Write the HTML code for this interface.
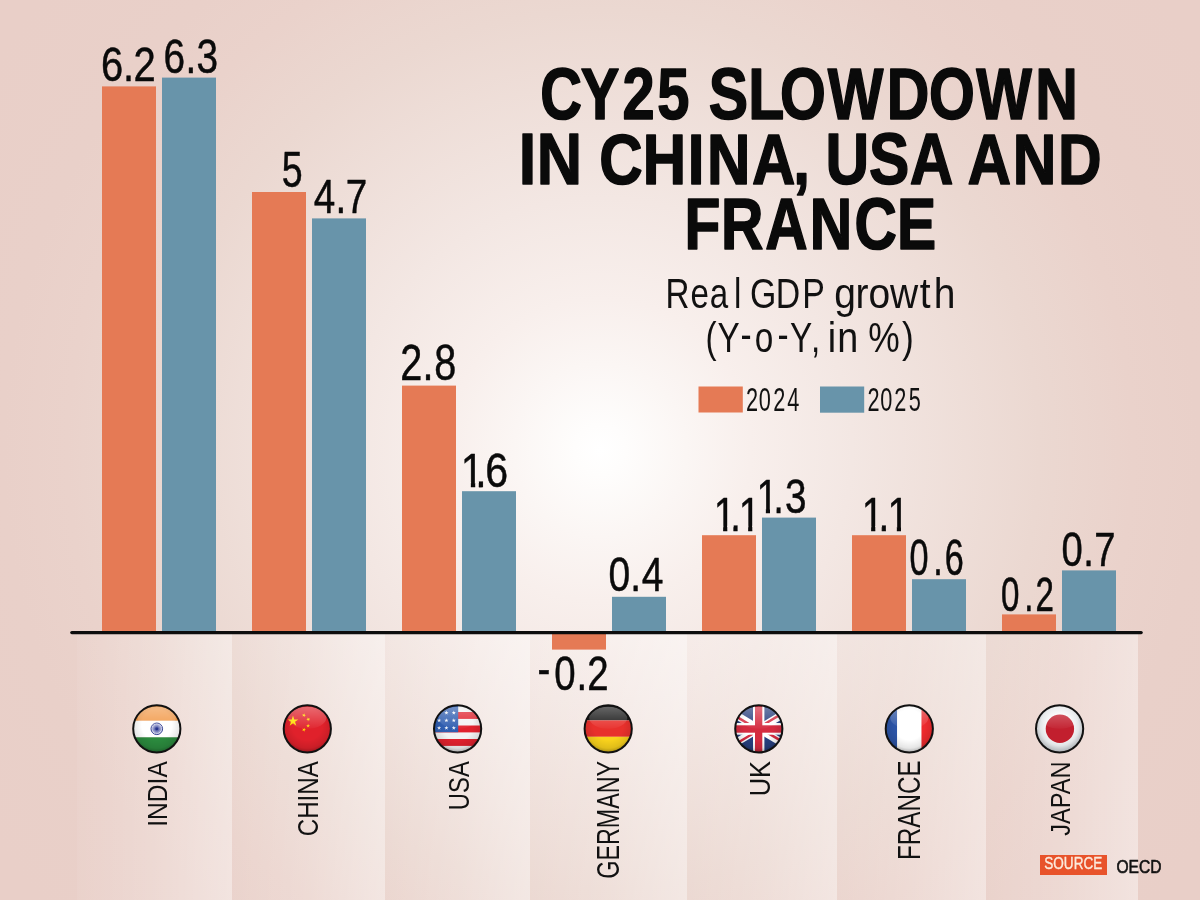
<!DOCTYPE html>
<html><head><meta charset="utf-8"><title>CY25 Slowdown in China, USA and France</title>
<style>
html,body{margin:0;padding:0;width:1200px;height:900px;overflow:hidden;background:#EAD2CB;}
svg{display:block;will-change:transform;}
text{font-family:"Liberation Sans", Arial, sans-serif;}
</style></head>
<body>
<svg width="1200" height="900" viewBox="0 0 1200 900" font-family="'Liberation Sans', Arial, sans-serif" font-size="100">
<defs>
<radialGradient id="bg" gradientUnits="userSpaceOnUse" cx="600" cy="450" r="720">
<stop offset="0" stop-color="#FFFFFF"/>
<stop offset="0.035" stop-color="#FEFDFC"/>
<stop offset="0.12" stop-color="#FBF6F4"/>
<stop offset="0.21" stop-color="#F8EFEC"/>
<stop offset="0.35" stop-color="#F3E7E3"/>
<stop offset="0.61" stop-color="#EBD8D1"/>
<stop offset="0.74" stop-color="#EAD2CB"/>
<stop offset="0.83" stop-color="#E9D0C9"/>
<stop offset="1" stop-color="#E9CFC8"/>
</radialGradient>
<linearGradient id="band" x1="0" y1="0" x2="1" y2="0">
<stop offset="0" stop-color="#FFFFFF" stop-opacity="0.05"/>
<stop offset="0.5" stop-color="#FFFFFF" stop-opacity="0.2"/>
<stop offset="1" stop-color="#FFFFFF" stop-opacity="0.42"/>
</linearGradient>
<clipPath id="vc5"><rect x="448.6" y="442.2" width="69.9" height="39.7"/><rect x="470.86" y="481.4" width="4.33" height="8"/><rect x="478.82" y="481.4" width="4.56" height="8"/><rect x="487.00" y="481.4" width="19.60" height="8"/></clipPath>
<clipPath id="vc8"><rect x="705.1" y="486.2" width="59.4" height="39.6"/><rect x="723.15" y="525.4" width="4.13" height="8"/><rect x="733.43" y="525.4" width="4.34" height="8"/><rect x="748.15" y="525.4" width="4.13" height="8"/></clipPath>
<clipPath id="vc9"><rect x="747.8" y="468.3" width="69.2" height="39.7"/><rect x="765.87" y="507.5" width="4.11" height="8"/><rect x="776.47" y="507.5" width="4.32" height="8"/><rect x="786.15" y="507.5" width="18.95" height="8"/></clipPath>
<clipPath id="vc10"><rect x="852.5" y="486.5" width="60.7" height="39.6"/><rect x="871.15" y="525.6" width="4.13" height="8"/><rect x="881.68" y="525.6" width="4.34" height="8"/><rect x="896.85" y="525.6" width="4.13" height="8"/></clipPath>
<clipPath id="fc"><circle cx="0" cy="0" r="23.4"/></clipPath>
<radialGradient id="shade" cx="0.5" cy="0.42" r="0.55">
<stop offset="0.55" stop-color="#000" stop-opacity="0"/>
<stop offset="0.85" stop-color="#000" stop-opacity="0.10"/>
<stop offset="1" stop-color="#000" stop-opacity="0.32"/>
</radialGradient>
<linearGradient id="gloss" x1="0" y1="0" x2="0" y2="1">
<stop offset="0" stop-color="#FFF" stop-opacity="0.55"/>
<stop offset="1" stop-color="#FFF" stop-opacity="0.05"/>
</linearGradient>
<radialGradient id="chk">
<stop offset="0" stop-color="#23308A" stop-opacity="0.9"/>
<stop offset="1" stop-color="#5A64B4" stop-opacity="0.25"/>
</radialGradient>
<radialGradient id="jpw" cx="0.5" cy="0.45" r="0.55">
<stop offset="0.38" stop-color="#FFFFFF"/>
<stop offset="0.7" stop-color="#E3E6E8"/>
<stop offset="1" stop-color="#9CA1A6"/>
</radialGradient>
</defs>
<rect x="0" y="0" width="1200" height="900" fill="url(#bg)"/>
<rect x="77" y="634" width="155" height="266" fill="url(#band)"/>
<rect x="232" y="634" width="153" height="266" fill="url(#band)"/>
<rect x="385" y="634" width="145" height="266" fill="url(#band)"/>
<rect x="530" y="634" width="157" height="266" fill="url(#band)"/>
<rect x="687" y="634" width="150" height="266" fill="url(#band)"/>
<rect x="837" y="634" width="149" height="266" fill="url(#band)"/>
<rect x="986" y="634" width="152" height="266" fill="url(#band)"/>
<rect x="102" y="86.4" width="54" height="544.6" fill="#E57A55"/>
<rect x="162" y="77.6" width="54" height="553.4" fill="#6894AA"/>
<rect x="252" y="192.0" width="54" height="439.0" fill="#E57A55"/>
<rect x="312" y="218.4" width="54" height="412.6" fill="#6894AA"/>
<rect x="402" y="385.6" width="54" height="245.4" fill="#E57A55"/>
<rect x="462" y="491.2" width="54" height="139.8" fill="#6894AA"/>
<rect x="552" y="633" width="54" height="16.6" fill="#E57A55"/>
<rect x="612" y="596.8" width="54" height="34.2" fill="#6894AA"/>
<rect x="702" y="535.2" width="54" height="95.8" fill="#E57A55"/>
<rect x="762" y="517.6" width="54" height="113.4" fill="#6894AA"/>
<rect x="852" y="535.2" width="54" height="95.8" fill="#E57A55"/>
<rect x="912" y="579.2" width="54" height="51.8" fill="#6894AA"/>
<rect x="1002" y="614.4" width="54" height="16.6" fill="#E57A55"/>
<rect x="1062" y="570.4" width="54" height="60.6" fill="#6894AA"/>
<line x1="71.8" y1="632.6" x2="1141.2" y2="632.6" stroke="#0D0D0D" stroke-width="3.2" stroke-linecap="round"/>
<text x="252.85 307.94 334.31" y="0" transform="translate(0 81.46) scale(0.3997 0.4816)" font-weight="400" fill="#0A0A0A" stroke="#0A0A0A" stroke-width="1.001" stroke-linejoin="round">6.2</text>
<text x="421.24 478.26 506.27" y="0" transform="translate(0 72.65) scale(0.3881 0.4885)" font-weight="400" fill="#0A0A0A" stroke="#0A0A0A" stroke-width="1.031" stroke-linejoin="round">6.3</text>
<text x="750.14" y="0" transform="translate(0 186.94) scale(0.3755 0.4911)" font-weight="400" fill="#0A0A0A" stroke="#0A0A0A" stroke-width="1.065" stroke-linejoin="round">5</text>
<text x="811.82 867.58 894.50" y="0" transform="translate(0 213.35) scale(0.3866 0.4856)" font-weight="400" fill="#0A0A0A" stroke="#0A0A0A" stroke-width="1.035" stroke-linejoin="round">4.7</text>
<text x="1010.04 1065.81 1095.67" y="0" transform="translate(0 379.95) scale(0.3964 0.4957)" font-weight="400" fill="#0A0A0A" stroke="#0A0A0A" stroke-width="1.009" stroke-linejoin="round">2.8</text>
<g clip-path="url(#vc5)"><text x="1118.15 1153.40 1177.24" y="0" transform="translate(0 486.56) scale(0.4121 0.4889)" font-weight="400" fill="#0A0A0A" stroke="#0A0A0A" stroke-width="0.971" stroke-linejoin="round">1.6</text></g>
<text x="1398.78 1442.80 1500.29 1528.30" y="-8.67 0 0 0" transform="translate(0 689.55) scale(0.3842 0.4842)" font-weight="400" fill="#0A0A0A" stroke="#0A0A0A" stroke-width="1.041" stroke-linejoin="round">-0.2</text>
<text x="1559.19 1615.24 1644.70" y="0" transform="translate(0 591.45) scale(0.3902 0.4899)" font-weight="400" fill="#0A0A0A" stroke="#0A0A0A" stroke-width="1.025" stroke-linejoin="round">0.4</text>
<g clip-path="url(#vc8)"><text x="1829.99 1872.25 1894.09" y="0" transform="translate(0 530.55) scale(0.3900 0.4878)" font-weight="400" fill="#0A0A0A" stroke="#0A0A0A" stroke-width="1.026" stroke-linejoin="round">1.1</text></g>
<g clip-path="url(#vc9)"><text x="1954.07 1997.37 2027.68" y="0" transform="translate(0 512.65) scale(0.3871 0.4885)" font-weight="400" fill="#0A0A0A" stroke="#0A0A0A" stroke-width="1.033" stroke-linejoin="round">1.3</text></g>
<g clip-path="url(#vc10)"><text x="2209.47 2252.38 2275.37" y="0" transform="translate(0 530.75) scale(0.3900 0.4871)" font-weight="400" fill="#0A0A0A" stroke="#0A0A0A" stroke-width="1.026" stroke-linejoin="round">1.1</text></g>
<text x="2660.58 2730.06 2764.08" y="0" transform="translate(0 574.71) scale(0.3418 0.4932)" font-weight="400" fill="#0A0A0A" stroke="#0A0A0A" stroke-width="1.170" stroke-linejoin="round">0.6</text>
<text x="3025.40 3095.36 3129.35" y="0" transform="translate(0 610.71) scale(0.3309 0.4859)" font-weight="400" fill="#0A0A0A" stroke="#0A0A0A" stroke-width="1.209" stroke-linejoin="round">0.2</text>
<text x="2776.48 2833.55 2862.11" y="0" transform="translate(0 565.75) scale(0.3823 0.4870)" font-weight="400" fill="#0A0A0A" stroke="#0A0A0A" stroke-width="1.046" stroke-linejoin="round">0.7</text>
<text x="934.71 1004.63 1077.17 1136.98" y="0" transform="translate(0 119.19) scale(0.5780 0.7206)" font-weight="700" fill="#0A0A0A" stroke="#0A0A0A" stroke-width="2.249" stroke-linejoin="round">CY25</text>
<text x="1202.10 1269.27 1323.33 1404.29 1504.13 1576.08 1656.20 1756.27" y="0" transform="translate(0 119.20) scale(0.5895 0.7211)" font-weight="700" fill="#0A0A0A" stroke="#0A0A0A" stroke-width="2.205" stroke-linejoin="round">SLOWDOWN</text>
<text x="826.25 855.01" y="0" transform="translate(0 183.96) scale(0.6279 0.7140)" font-weight="700" fill="#0A0A0A" stroke="#0A0A0A" stroke-width="2.071" stroke-linejoin="round">IN</text>
<text x="997.64 1069.97 1144.98 1177.10 1251.69 1320.61" y="0" transform="translate(0 183.93) scale(0.6007 0.7130)" font-weight="700" fill="#0A0A0A" stroke="#0A0A0A" stroke-width="2.164" stroke-linejoin="round">CHINA,</text>
<text x="1365.75 1437.48 1505.04" y="0" transform="translate(0 183.93) scale(0.6045 0.7132)" font-weight="700" fill="#0A0A0A" stroke="#0A0A0A" stroke-width="2.151" stroke-linejoin="round">USA</text>
<text x="1602.91 1677.86 1752.98" y="0" transform="translate(0 183.93) scale(0.6036 0.7131)" font-weight="700" fill="#0A0A0A" stroke="#0A0A0A" stroke-width="2.154" stroke-linejoin="round">AND</text>
<text x="1165.47 1227.65 1302.96 1378.84 1454.89 1527.30" y="0" transform="translate(0 249.01) scale(0.5873 0.7154)" font-weight="700" fill="#0A0A0A" stroke="#0A0A0A" stroke-width="2.213" stroke-linejoin="round">FRANCE</text>
<text x="2006.16 2081.58 2139.67 2212.59" y="0" transform="translate(0 307.90) scale(0.3317 0.4186)" font-weight="400" fill="#111">Real</text>
<text x="2216.37 2292.31 2370.67" y="0" transform="translate(0 307.90) scale(0.3384 0.4186)" font-weight="400" fill="#111">GDP</text>
<text x="2138.51 2193.15 2226.36 2281.20 2357.65 2393.55" y="0" transform="translate(0 307.90) scale(0.3901 0.4186)" font-weight="400" fill="#111">growth</text>
<text x="2119.01 2155.42 2224.68 2267.59 2335.81 2373.17 2436.17" y="0 0 -7.04 0 -7.04 0 0" transform="translate(0 352.00) scale(0.3329 0.4259)" font-weight="400" fill="#111">(Y-o-Y,</text>
<text x="2191.06 2216.13" y="0" transform="translate(0 352.00) scale(0.3778 0.4259)" font-weight="400" fill="#111">in</text>
<text x="2449.63 2545.03" y="0" transform="translate(0 352.00) scale(0.3544 0.4259)" font-weight="400" fill="#111">%)</text>
<rect x="698.5" y="386.5" width="44.3" height="26" fill="#E57A55"/>
<rect x="820" y="386.5" width="44.2" height="26.2" fill="#6894AA"/>
<text x="3436.23 3494.96 3561.75 3626.54" y="0" transform="translate(0 410.50) scale(0.2171 0.3295)" font-weight="400" fill="#111">2024</text>
<text x="3995.84 4054.57 4119.06 4185.95" y="0" transform="translate(0 410.50) scale(0.2171 0.3295)" font-weight="400" fill="#111">2025</text>
<text transform="translate(167.00 826.76) rotate(-90) scale(0.2460 0.2791)" font-weight="400" fill="#111">INDIA</text>
<text transform="translate(317.50 836.23) rotate(-90) scale(0.2410 0.2907)" font-weight="400" fill="#111">CHINA</text>
<text transform="translate(468.70 810.13) rotate(-90) scale(0.2377 0.3009)" font-weight="400" fill="#111">USA</text>
<text transform="translate(619.00 878.66) rotate(-90) scale(0.2329 0.3052)" font-weight="400" fill="#111">GERMANY</text>
<text transform="translate(769.60 796.35) rotate(-90) scale(0.2538 0.2922)" font-weight="400" fill="#111">UK</text>
<text transform="translate(920.00 859.99) rotate(-90) scale(0.2423 0.3110)" font-weight="400" fill="#111">FRANCE</text>
<text transform="translate(1070.00 835.68) rotate(-90) scale(0.2359 0.2776)" font-weight="400" fill="#111">JAPAN</text>
<rect x="1040" y="855" width="67" height="20" fill="#E8532B"/>
<text transform="translate(1044.28 868.60) scale(0.1357 0.1592)" font-weight="400" fill="#FCEBDD" stroke="#FCEBDD" stroke-width="2.211" stroke-linejoin="round">SOURCE</text>
<text transform="translate(1116.42 872.85) scale(0.1560 0.1831)" font-weight="400" fill="#111" stroke="#111" stroke-width="3.204" stroke-linejoin="round">OECD</text>
<g transform="translate(156.8 728.8)"><g clip-path="url(#fc)"><rect x="-25" y="-25" width="50" height="17" fill="#F29B4C"/><rect x="-25" y="-8" width="50" height="16.5" fill="#FFFFFF"/><rect x="-25" y="8.5" width="50" height="17" fill="#2B8A3E"/><circle cx="0" cy="0" r="5.8" fill="none" stroke="#23308A" stroke-width="0.9"/><line x1="-5.40" y1="-0.00" x2="5.40" y2="0.00" stroke="#3A46A0" stroke-width="0.35"/><line x1="-5.22" y1="-1.40" x2="5.22" y2="1.40" stroke="#3A46A0" stroke-width="0.35"/><line x1="-4.68" y1="-2.70" x2="4.68" y2="2.70" stroke="#3A46A0" stroke-width="0.35"/><line x1="-3.82" y1="-3.82" x2="3.82" y2="3.82" stroke="#3A46A0" stroke-width="0.35"/><line x1="-2.70" y1="-4.68" x2="2.70" y2="4.68" stroke="#3A46A0" stroke-width="0.35"/><line x1="-1.40" y1="-5.22" x2="1.40" y2="5.22" stroke="#3A46A0" stroke-width="0.35"/><line x1="-0.00" y1="-5.40" x2="0.00" y2="5.40" stroke="#3A46A0" stroke-width="0.35"/><line x1="1.40" y1="-5.22" x2="-1.40" y2="5.22" stroke="#3A46A0" stroke-width="0.35"/><line x1="2.70" y1="-4.68" x2="-2.70" y2="4.68" stroke="#3A46A0" stroke-width="0.35"/><line x1="3.82" y1="-3.82" x2="-3.82" y2="3.82" stroke="#3A46A0" stroke-width="0.35"/><line x1="4.68" y1="-2.70" x2="-4.68" y2="2.70" stroke="#3A46A0" stroke-width="0.35"/><line x1="5.22" y1="-1.40" x2="-5.22" y2="1.40" stroke="#3A46A0" stroke-width="0.35"/><circle cx="0" cy="0" r="4.6" fill="url(#chk)"/><circle cx="0" cy="0" r="1.3" fill="#23308A"/><rect x="-25" y="-25" width="50" height="50" fill="url(#shade)"/><ellipse cx="0" cy="-11" rx="19" ry="11" fill="url(#gloss)" opacity="0.6"/></g><circle cx="0" cy="0" r="23.6" fill="none" stroke="#111" stroke-width="2"/></g>
<g transform="translate(307.3 728.8)"><g clip-path="url(#fc)"><rect x="-25" y="-25" width="50" height="50" fill="#E0212B"/><polygon points="-14.30,-13.20 -13.04,-9.33 -8.97,-9.33 -12.27,-6.94 -11.01,-3.07 -14.30,-5.46 -17.59,-3.07 -16.33,-6.94 -19.63,-9.33 -15.56,-9.33" fill="#FFDE00"/><polygon points="-2.68,-15.57 -2.73,-14.05 -1.30,-13.53 -2.77,-13.11 -2.82,-11.58 -3.67,-12.85 -5.14,-12.43 -4.20,-13.63 -5.05,-14.89 -3.62,-14.37" fill="#FFDE00"/><polygon points="2.48,-10.88 1.79,-9.53 2.87,-8.45 1.36,-8.69 0.67,-7.33 0.43,-8.83 -1.07,-9.07 0.29,-9.76 0.05,-11.27 1.13,-10.19" fill="#FFDE00"/><polygon points="0.80,-5.10 1.27,-3.65 2.80,-3.65 1.56,-2.75 2.03,-1.30 0.80,-2.20 -0.43,-1.30 0.04,-2.75 -1.20,-3.65 0.33,-3.65" fill="#FFDE00"/><polygon points="-2.68,-1.07 -2.73,0.45 -1.30,0.97 -2.77,1.39 -2.82,2.92 -3.67,1.65 -5.14,2.07 -4.20,0.87 -5.05,-0.39 -3.62,0.13" fill="#FFDE00"/><rect x="-25" y="-25" width="50" height="50" fill="url(#shade)"/><ellipse cx="0" cy="-11" rx="19" ry="11" fill="url(#gloss)" opacity="0.6"/></g><circle cx="0" cy="0" r="23.6" fill="none" stroke="#111" stroke-width="2"/></g>
<g transform="translate(457.6 728.8)"><g clip-path="url(#fc)"><rect x="-25" y="-25" width="50" height="50" fill="#F3F3F3"/><rect x="-25" y="-16.8" width="50" height="6.9" fill="#E0222E"/><rect x="-25" y="-3.3" width="50" height="6.9" fill="#E0222E"/><rect x="-25" y="10.2" width="50" height="6.9" fill="#E0222E"/><rect x="-25" y="-25" width="25.6" height="28.4" fill="#2F5DB0"/><polygon points="-11.20,-18.20 -10.71,-16.68 -9.11,-16.68 -10.40,-15.74 -9.91,-14.22 -11.20,-15.16 -12.49,-14.22 -12.00,-15.74 -13.29,-16.68 -11.69,-16.68" fill="#F4F6FA"/><polygon points="-3.80,-18.20 -3.31,-16.68 -1.71,-16.68 -3.00,-15.74 -2.51,-14.22 -3.80,-15.16 -5.09,-14.22 -4.60,-15.74 -5.89,-16.68 -4.29,-16.68" fill="#F4F6FA"/><polygon points="-18.50,-10.60 -18.01,-9.08 -16.41,-9.08 -17.70,-8.14 -17.21,-6.62 -18.50,-7.56 -19.79,-6.62 -19.30,-8.14 -20.59,-9.08 -18.99,-9.08" fill="#F4F6FA"/><polygon points="-11.20,-10.60 -10.71,-9.08 -9.11,-9.08 -10.40,-8.14 -9.91,-6.62 -11.20,-7.56 -12.49,-6.62 -12.00,-8.14 -13.29,-9.08 -11.69,-9.08" fill="#F4F6FA"/><polygon points="-3.80,-10.60 -3.31,-9.08 -1.71,-9.08 -3.00,-8.14 -2.51,-6.62 -3.80,-7.56 -5.09,-6.62 -4.60,-8.14 -5.89,-9.08 -4.29,-9.08" fill="#F4F6FA"/><polygon points="-18.50,-3.00 -18.01,-1.48 -16.41,-1.48 -17.70,-0.54 -17.21,0.98 -18.50,0.04 -19.79,0.98 -19.30,-0.54 -20.59,-1.48 -18.99,-1.48" fill="#F4F6FA"/><polygon points="-11.20,-3.00 -10.71,-1.48 -9.11,-1.48 -10.40,-0.54 -9.91,0.98 -11.20,0.04 -12.49,0.98 -12.00,-0.54 -13.29,-1.48 -11.69,-1.48" fill="#F4F6FA"/><polygon points="-3.80,-3.00 -3.31,-1.48 -1.71,-1.48 -3.00,-0.54 -2.51,0.98 -3.80,0.04 -5.09,0.98 -4.60,-0.54 -5.89,-1.48 -4.29,-1.48" fill="#F4F6FA"/><rect x="-25" y="-25" width="50" height="50" fill="url(#shade)"/><ellipse cx="0" cy="-11" rx="19" ry="11" fill="url(#gloss)" opacity="0.6"/></g><circle cx="0" cy="0" r="23.6" fill="none" stroke="#111" stroke-width="2"/></g>
<g transform="translate(608.2 728.8)"><g clip-path="url(#fc)"><rect x="-25" y="-25" width="50" height="16.6" fill="#1A1A1A"/><rect x="-25" y="-8.4" width="50" height="16.4" fill="#E8302C"/><rect x="-25" y="8" width="50" height="17" fill="#F9D21C"/><rect x="-25" y="-25" width="50" height="50" fill="url(#shade)"/><ellipse cx="0" cy="-11" rx="19" ry="11" fill="url(#gloss)" opacity="0.6"/></g><circle cx="0" cy="0" r="23.6" fill="none" stroke="#111" stroke-width="2"/></g>
<g transform="translate(758.8 728.8)"><g clip-path="url(#fc)"><rect x="-25" y="-25" width="50" height="50" fill="#27407F"/><line x1="-50" y1="-30" x2="50" y2="30" stroke="#FFF" stroke-width="7.6"/><line x1="-50" y1="30" x2="50" y2="-30" stroke="#FFF" stroke-width="7.6"/><line x1="-50.57" y1="-29.06" x2="-0.57" y2="0.94" stroke="#D52B40" stroke-width="2.5"/><line x1="0.57" y1="-0.94" x2="50.57" y2="29.06" stroke="#D52B40" stroke-width="2.5"/><line x1="-0.57" y1="-0.94" x2="49.43" y2="-30.94" stroke="#D52B40" stroke-width="2.5"/><line x1="-49.43" y1="30.94" x2="0.57" y2="0.94" stroke="#D52B40" stroke-width="2.5"/><rect x="-5.8" y="-25" width="11.4" height="50" fill="#FFF"/><rect x="-25" y="-5.8" width="50" height="11.7" fill="#FFF"/><rect x="-3.8" y="-25" width="7.3" height="50" fill="#D52B40"/><rect x="-25" y="-3.5" width="50" height="7.4" fill="#D52B40"/><rect x="-25" y="-25" width="50" height="50" fill="url(#shade)"/><ellipse cx="0" cy="-11" rx="19" ry="11" fill="url(#gloss)" opacity="0.6"/></g><circle cx="0" cy="0" r="23.6" fill="none" stroke="#111" stroke-width="2"/></g>
<g transform="translate(909.3 728.8)"><g clip-path="url(#fc)"><rect x="-25" y="-25" width="13" height="50" fill="#2C54A6"/><rect x="-12.2" y="-25" width="24.4" height="50" fill="#FFFFFF"/><rect x="12.2" y="-25" width="13" height="50" fill="#EE2A2E"/><rect x="-25" y="-25" width="50" height="50" fill="url(#shade)"/><ellipse cx="0" cy="-11" rx="19" ry="11" fill="url(#gloss)" opacity="0.6"/></g><circle cx="0" cy="0" r="23.6" fill="none" stroke="#111" stroke-width="2"/></g>
<g transform="translate(1059.6 728.8)"><g clip-path="url(#fc)"><rect x="-25" y="-25" width="50" height="50" fill="url(#jpw)"/><circle cx="0.3" cy="-0.1" r="14.2" fill="#C21F2E"/><ellipse cx="0" cy="-11" rx="19" ry="11" fill="url(#gloss)" opacity="0.6"/></g><circle cx="0" cy="0" r="23.6" fill="none" stroke="#111" stroke-width="2"/></g>
</svg>
</body></html>
